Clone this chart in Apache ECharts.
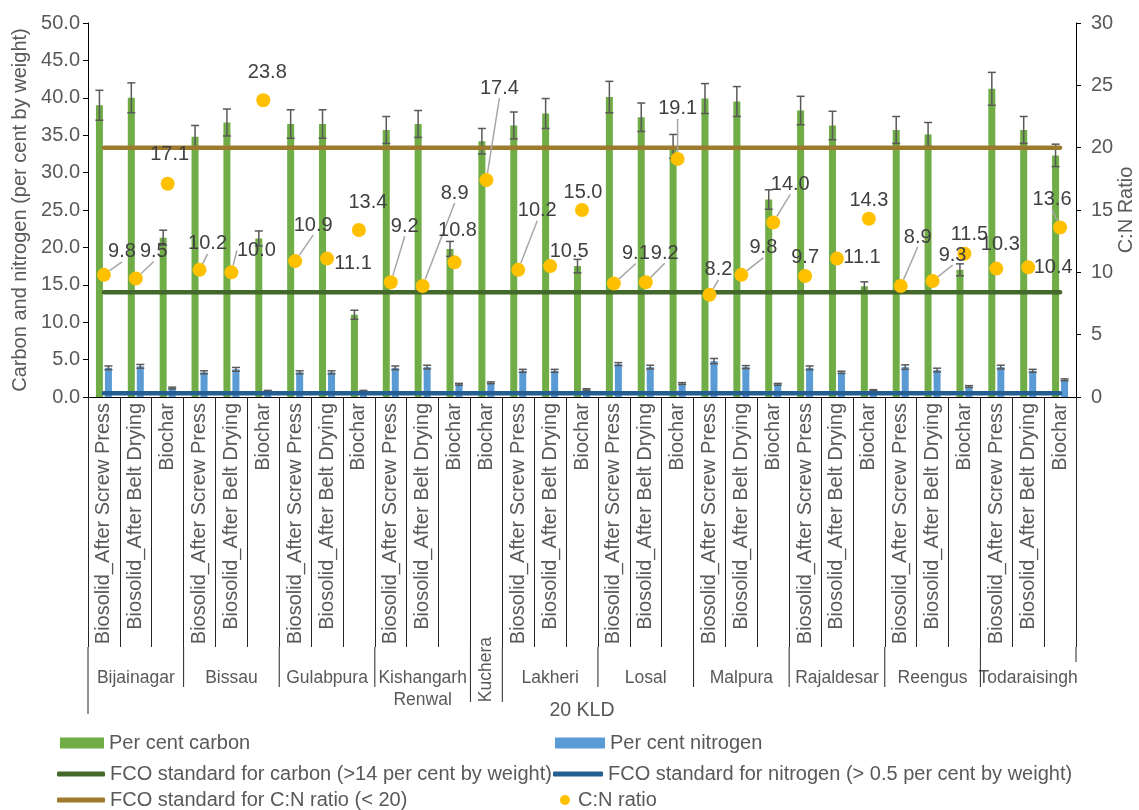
<!DOCTYPE html>
<html>
<head>
<meta charset="utf-8">
<script src="https://cdn.jsdelivr.net/npm/echarts@6/dist/echarts.min.js"></script>
<style>html,body{margin:0;padding:0;background:#fff;overflow:hidden}#c{width:1139px;height:810px}</style>
</head>
<body>
<div id="c"></div>
<script>
// ---------------- data ----------------
const BSP = 'Biosolid_After Screw Press', BBD = 'Biosolid_After Belt Drying', BC = 'Biochar';
const categories = [
  BSP, BBD, BC,  BSP, BBD, BC,  BSP, BBD, BC,  BSP, BBD, BC,  BC,
  BSP, BBD, BC,  BSP, BBD, BC,  BSP, BBD, BC,  BSP, BBD, BC,  BSP, BBD, BC,  BSP, BBD, BC
];
const groupNames = ['Bijainagar', 'Bissau', 'Gulabpura', 'Kishangarh\nRenwal', 'Kuchera', 'Lakheri',
  'Losal', 'Malpura', 'Rajaldesar', 'Reengus', 'Todaraisingh'];
const groupSizes = [3, 3, 3, 3, 1, 3, 3, 3, 3, 3, 3];

const carbon = [39.0, 40.0, 21.3, 34.8, 36.7, 21.2, 36.5, 36.5, 11.0, 35.7, 36.5, 19.8, 34.2,
  36.3, 37.9, 17.5, 40.1, 37.4, 33.5, 39.9, 39.5, 26.4, 38.3, 36.3, 14.8, 35.7, 35.1, 17.0, 41.2, 35.7, 32.3];
const carbonErr = [2.0, 2.0, 1.0, 1.5, 1.8, 1.0, 1.9, 1.9, 0.6, 1.8, 1.8, 1.0, 1.7,
  1.8, 2.0, 0.9, 2.1, 1.9, 1.6, 2.0, 2.0, 1.3, 1.9, 1.9, 0.6, 1.8, 1.6, 0.8, 2.2, 1.8, 1.5];
const nitrogen = [3.9, 4.1, 1.2, 3.3, 3.7, 0.8, 3.3, 3.3, 0.8, 3.9, 4.0, 1.7, 1.9,
  3.5, 3.5, 1.0, 4.4, 4.0, 1.8, 4.8, 4.0, 1.7, 3.9, 3.3, 0.9, 4.0, 3.6, 1.4, 4.0, 3.5, 2.3];
const nitrogenErr = [0.25, 0.25, 0.12, 0.2, 0.25, 0.08, 0.2, 0.2, 0.08, 0.25, 0.25, 0.12, 0.12,
  0.2, 0.2, 0.1, 0.2, 0.25, 0.12, 0.35, 0.2, 0.12, 0.25, 0.15, 0.08, 0.3, 0.25, 0.12, 0.25, 0.2, 0.12];
const cnRatio = [9.8, 9.5, 17.1, 10.2, 10.0, 23.8, 10.9, 11.1, 13.4, 9.2, 8.9, 10.8, 17.4,
  10.2, 10.5, 15.0, 9.1, 9.2, 19.1, 8.2, 9.8, 14.0, 9.7, 11.1, 14.3, 8.9, 9.3, 11.5, 10.3, 10.4, 13.6];
const carbonStd = 14, nitrogenStd = 0.5, cnStd = 20;
const leftTicks = {min: 0, max: 50, interval: 5};
const rightTicks = {min: 0, max: 30, interval: 5};

// ---------------- label styling (offsets in px, leader line flags) ----------------
const labelOffsets = [[18,-23],[18,-27],[2,-29],[8,-26],[25,-22],[4,-28],[18,-36],[26,5],[9,-27],
  [14,-56],[32,-93],[3,-32],[13,-92],[19,-59],[19,-15],[1,-18],[22,-30],[19,-29],[0,-50],[9,-25],
  [22,-27],[17,-38],[0,-19],[25,-1],[0,-18],[17,-49],[20,-26],[5,-19],[4,-24],[25,0],[-8,-28]];
const leader = [1,1,0,1,1,0,1,0,0,1,1,0,1,1,0,0,1,1,1,1,1,1,0,0,0,1,1,0,0,0,1];

// ---------------- derived ----------------
const groupLabelData = [], kucheraData = [], boundaryIdx = [];
let pos = 0;
groupNames.forEach((g, gi) => {
  boundaryIdx.push(pos);
  for (let k = 0; k < groupSizes[gi]; k++) {
    const mid = k === Math.floor(groupSizes[gi] / 2);
    const isK = g === 'Kuchera';
    groupLabelData.push(mid && !isK ? g : '');
    kucheraData.push(mid && isK ? g : '');
  }
  pos += groupSizes[gi];
});
boundaryIdx.push(pos);
// separator drop below the label band (style)
const boundaryLen = boundaryIdx.map((b, k) => {
  if (k === 0) return 67;
  if (k === boundaryIdx.length - 1) return 15;
  if (groupNames[k] === 'Kuchera' || groupNames[k - 1] === 'Kuchera') return 55;
  return 40;
});

const FONT = '"Liberation Sans", Arial, sans-serif';
const TXT = '#595959';
const BW = 7, GAP = 2;
const off = (BW + GAP) / 2;
const LABEL_BAND = 250;

function errRender(dx) {
  return function (params, api) {
    const i = api.value(0), v = api.value(1), e = api.value(2);
    const hi = api.coord([i, v + e]), lo = api.coord([i, v - e]);
    const cx = hi[0] + dx, hw = 4;
    const st = {stroke: '#595959', lineWidth: 1.5};
    return {type: 'group', children: [
      {type: 'line', shape: {x1: cx, y1: hi[1], x2: cx, y2: lo[1]}, style: st},
      {type: 'line', shape: {x1: cx - hw, y1: hi[1], x2: cx + hw, y2: hi[1]}, style: st},
      {type: 'line', shape: {x1: cx - hw, y1: lo[1], x2: cx + hw, y2: lo[1]}, style: st}
    ]};
  };
}

function sepRender(params, api) {
  const b = api.value(0);
  const band = api.size([1, 0])[0];
  const last = categories.length - 1;
  const p = b <= last ? api.coord([b, 0]) : api.coord([last, 0]);
  const x = b <= last ? p[0] - band / 2 : p[0] + band / 2;
  const y1 = p[1] + LABEL_BAND;
  return {type: 'line', shape: {x1: x, y1: y1, x2: x, y2: y1 + boundaryLen[params.dataIndex]},
    style: {stroke: '#262626', lineWidth: 1}};
}

const chart = echarts.init(document.getElementById('c'), null, {renderer: 'canvas'});
const legendBase = {padding: 0, itemGap: 0, textStyle: {fontSize: 20, color: TXT, fontFamily: FONT}, selectedMode: false};

const option = {
  animation: false,
  textStyle: {fontFamily: FONT},
  grid: {left: 88, right: 63, top: 23, bottom: 413, containLabel: false, outerBoundsMode: 'none'},
  legend: [
    Object.assign({}, legendBase, {data: ['Per cent carbon'], left: 60, top: 733, icon: 'rect', itemWidth: 44, itemHeight: 11}),
    Object.assign({}, legendBase, {data: ['Per cent nitrogen'], left: 555, top: 733, icon: 'rect', itemWidth: 50, itemHeight: 11}),
    Object.assign({}, legendBase, {data: ['FCO standard for carbon (>14 per cent by weight)'], left: 57, top: 764, icon: 'roundRect', itemWidth: 48, itemHeight: 5}),
    Object.assign({}, legendBase, {data: ['FCO standard for nitrogen (> 0.5 per cent by weight)'], left: 553, top: 764, icon: 'roundRect', itemWidth: 50, itemHeight: 5}),
    Object.assign({}, legendBase, {data: ['FCO standard for C:N ratio (< 20)'], left: 57, top: 790, icon: 'roundRect', itemWidth: 48, itemHeight: 5}),
    Object.assign({}, legendBase, {data: ['C:N ratio'], left: 560, top: 790, icon: 'circle', itemWidth: 16, itemHeight: 10})
  ],
  xAxis: [
    {
      type: 'category', data: categories, position: 'bottom',
      axisLine: {lineStyle: {color: '#000', width: 1}},
      axisTick: {show: true, interval: 0, length: LABEL_BAND, lineStyle: {color: '#262626'}},
      axisLabel: {interval: 0, rotate: 90, fontSize: 20, color: TXT, margin: 6, fontFamily: FONT},
      name: '20 KLD', nameLocation: 'middle', nameGap: 304,
      nameTextStyle: {fontSize: 19.5, color: TXT, fontFamily: FONT}
    },
    {
      type: 'category', data: groupLabelData, position: 'bottom', offset: LABEL_BAND,
      axisLine: {show: false}, axisTick: {show: false},
      axisLabel: {interval: 0, fontSize: 17.5, color: TXT, margin: 20, lineHeight: 22, fontFamily: FONT}
    },
    {
      type: 'category', data: kucheraData, position: 'bottom', offset: LABEL_BAND - 10,
      axisLine: {show: false}, axisTick: {show: false},
      axisLabel: {interval: 0, rotate: 90, fontSize: 17.5, color: TXT, margin: 0, fontFamily: FONT}
    }
  ],
  yAxis: [
    {
      type: 'value', min: leftTicks.min, max: leftTicks.max, interval: leftTicks.interval,
      axisLine: {show: true, lineStyle: {color: '#000'}},
      axisTick: {show: true, length: 5, lineStyle: {color: '#000'}},
      splitLine: {show: false},
      axisLabel: {fontSize: 20, color: TXT, margin: 8, formatter: v => v.toFixed(1), fontFamily: FONT},
      name: 'Carbon and nitrogen (per cent by weight)', nameLocation: 'middle', nameGap: 58,
      nameTextStyle: {fontSize: 20, color: TXT, fontFamily: FONT}
    },
    {
      type: 'value', min: rightTicks.min, max: rightTicks.max, interval: rightTicks.interval, position: 'right',
      axisLine: {show: true, lineStyle: {color: '#000'}},
      axisTick: {show: true, length: 5, lineStyle: {color: '#000'}},
      splitLine: {show: false},
      axisLabel: {fontSize: 20, color: TXT, margin: 15, fontFamily: FONT},
      name: 'C:N Ratio', nameLocation: 'middle', nameGap: 40, nameRotate: 90, nameMoveOverlap: false,
      nameTextStyle: {fontSize: 20, color: TXT, fontFamily: FONT}
    }
  ],
  series: [
    {name: 'Per cent carbon', type: 'bar', data: carbon, barWidth: BW, barGap: (GAP / BW * 100) + '%',
      itemStyle: {color: '#70AD47'}, z: 2},
    {name: 'Per cent nitrogen', type: 'bar', data: nitrogen, barWidth: BW,
      itemStyle: {color: '#5B9BD5'}, z: 2},
    {type: 'custom', renderItem: errRender(-off), data: carbon.map((v, i) => [i, v, carbonErr[i]]), z: 3, silent: true},
    {type: 'custom', renderItem: errRender(off), data: nitrogen.map((v, i) => [i, v, nitrogenErr[i]]), z: 3, silent: true},
    {type: 'custom', renderItem: sepRender, data: boundaryIdx.map(b => [b, 0]), clip: false, silent: true, z: 1},
    {name: 'FCO standard for carbon (>14 per cent by weight)', type: 'line', data: categories.map(() => carbonStd),
      symbol: 'none', color: '#43682B', lineStyle: {width: 4.5, color: '#43682B', cap: 'round'}, z: 4},
    {name: 'FCO standard for nitrogen (> 0.5 per cent by weight)', type: 'line', data: categories.map(() => nitrogenStd),
      symbol: 'none', color: '#255E91', lineStyle: {width: 4.5, color: '#255E91', cap: 'round'}, z: 4},
    {name: 'FCO standard for C:N ratio (< 20)', type: 'line', yAxisIndex: 1, data: categories.map(() => cnStd),
      symbol: 'none', color: '#9C7A2E', lineStyle: {width: 4.5, color: '#9C7A2E', cap: 'round'}, z: 4},
    {name: 'C:N ratio', type: 'scatter', yAxisIndex: 1, symbolSize: 14, z: 6,
      itemStyle: {color: '#FFC000', opacity: 1},
      data: cnRatio.map((v, i) => ({value: v, labelLine: {show: !!leader[i]}})),
      label: {show: true, position: 'inside', formatter: p => p.value.toFixed(1), fontSize: 20,
        color: '#404040', textBorderWidth: 0, fontFamily: FONT},
      labelLine: {show: true, lineStyle: {color: '#A6A6A6', width: 1.5}},
      labelLayout: (p) => ({dx: labelOffsets[p.dataIndex][0], dy: labelOffsets[p.dataIndex][1]})
    }
  ]
};
chart.setOption(option);
</script>
</body>
</html>
